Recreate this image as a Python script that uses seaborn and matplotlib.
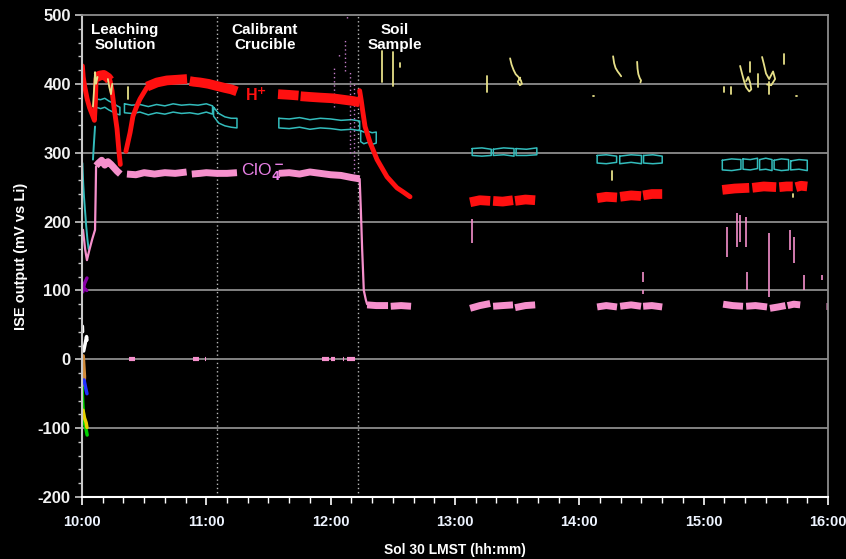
import numpy as np
import pandas as pd
import matplotlib
matplotlib.use("Agg")
import matplotlib.pyplot as plt
from matplotlib.ticker import MultipleLocator, FuncFormatter
import seaborn as sns

# time is minutes after 10:00 LMST, values are mV vs Li

# H+ sensor, noisy plateaus (drawn thick) and transitions (drawn thinner)
h_bands = [
    ([6.8, 8.5, 10.5, 12.5, 13.5], [409, 412, 413, 409, 405]),
    ([31.4, 36.2, 41, 46, 50.7], [396, 402, 405, 406, 407]),
    ([52, 54, 57, 61, 65, 69, 72, 74.8], [404, 403, 402, 400, 397, 394, 392, 389]),
    ([94.6, 100, 104.5], [385, 384, 383]),
    ([105.5, 110, 115, 121, 126, 131, 134], [382, 381, 380, 379, 377, 375, 373]),
    ([187.3, 192, 197], [228, 231, 230]),
    ([198.4, 203, 208], [230, 229, 231]),
    ([209, 214, 218.7], [230, 232, 231]),
    ([248.6, 253, 258.2], [234, 236, 235]),
    ([259.7, 265, 269.8], [236, 238, 237]),
    ([270.8, 275, 280], [238, 240, 240]),
    ([309, 315, 322], [246, 248, 249]),
    ([323.5, 329, 335], [249, 251, 250]),
    ([336.5, 340, 343], [250, 251, 251]),
    ([344.5, 347, 350], [250, 252, 251]),
]
h_ramps = [
    ([0.2, 0.6, 1.2, 2.5, 3.7, 5.0, 6.0, 6.5, 6.8], [426, 410, 398, 378, 365, 355, 347, 375, 408]),
    ([13.5, 14.5, 15.5, 16.9, 17.9, 18.5], [405, 390, 365, 335, 300, 283]),
    ([21.2, 23.2, 24.6, 26.5, 28, 31.4, 33], [302, 329, 353, 368, 378, 395, 399]),
    ([134, 134.8, 135.5, 136.6, 139, 142.4, 147.2, 152, 155, 158.3],
     [390, 375, 360, 338, 315, 290, 265, 249, 243, 236]),
]

# ClO4- sensor
p_bands = [
    ([6.8, 8, 9.5, 11, 12.5, 14, 15.5, 17, 18.5], [281, 285, 289, 282, 287, 283, 278, 273, 269]),
    ([21.7, 26, 30, 35, 40, 45, 50.5], [269, 268, 271, 269, 271, 270, 272]),
    ([53, 57, 60, 65, 70, 74.8], [269, 270, 271, 270, 270, 271]),
    ([95, 100, 105, 110, 115, 120, 125, 130, 134], [270, 271, 269, 272, 270, 268, 267, 264, 262]),
    ([137.6, 142, 147.7], [79, 78, 78]),
    ([149, 154, 158.8], [77, 78, 77]),
    ([187.3, 192, 197], [74, 78, 81]),
    ([198.4, 203, 208], [77, 78, 79]),
    ([209, 214, 218.7], [75, 78, 79]),
    ([248.6, 253, 258.2], [76, 78, 76]),
    ([259.7, 265, 269.8], [77, 79, 77]),
    ([270.8, 275, 280], [77, 78, 76]),
    ([309.4, 314, 319], [80, 78, 77]),
    ([320.5, 325, 330.6], [77, 78, 76]),
    ([332, 336, 339.5], [74, 76, 78]),
    ([340.5, 343.5, 346.6], [78, 80, 79]),
    ([359.2, 360], [78, 78]),
]
p_thin = [
    ([0.5, 1.5, 2.4, 3.5, 5.0, 6.3, 6.6, 6.8], [188, 160, 144, 158, 175, 188, 240, 280]),
    ([134, 134.6, 135.2, 136, 137, 137.6], [262, 215, 160, 100, 86, 80]),
]
p_zero = [
    ([22.7, 25.6], [1, 1]), ([53.6, 56.5], [1, 1]), ([59.6, 60.0], [1, 1]),
    ([115.8, 119], [1, 1]), ([120, 122], [1, 1]), ([125.8, 126.3], [1, 1]),
    ([128, 131.8], [1, 1]),
]
p_spikes = [
    (188.3, 169, 203), (270.8, 112, 127), (270.9, 95, 100), (311.5, 149, 192),
    (316, 163, 213), (317.5, 170, 210), (320.5, 163, 206), (320.8, 100, 127),
    (331.5, 90, 184), (341.8, 159, 188), (343.7, 140, 178), (348.5, 100, 122),
    (357, 115, 122),
]
p_specks = [
    (121.5, 367, 425), (127, 418, 465), (129.5, 300, 417), (131.5, 271, 400),
    (128, 495, 500), (124, 440, 446),
]

# third sensor (cyan), band outlines: time, upper edge, lower edge
c_thin = [
    ([0.2, 0.6, 1.0, 1.5, 2.0, 2.6, 3.2], [285, 255, 235, 215, 195, 175, 160]),
    ([5.3, 5.8, 6.3], [290, 315, 338]),
]
c_bands = [
    ([6.8, 9, 11, 13, 15, 17, 18.3],
     [378, 377, 379, 375, 372, 368, 366], [366, 364, 366, 362, 359, 356, 355]),
    ([20.5, 24, 28, 32, 36, 40, 44, 48, 52, 56, 60, 63],
     [371, 369, 370, 367, 370, 368, 371, 369, 370, 369, 371, 368],
     [358, 357, 359, 355, 358, 356, 359, 357, 358, 356, 359, 356]),
    ([63.5, 66, 69, 72, 74.8], [366, 357, 352, 350, 350], [353, 343, 339, 337, 336]),
    ([95, 100, 105, 110, 115, 120, 125, 130, 134],
     [350, 349, 351, 348, 350, 349, 347, 348, 346],
     [336, 335, 337, 334, 336, 335, 333, 334, 332]),
    ([134.5, 136, 138, 140, 142], [332, 330, 331, 329, 330], [316, 313, 315, 312, 314]),
    ([188.3, 193, 197.5], [306, 307, 305], [296, 295, 296]),
    ([198.5, 203.5, 208.5], [305, 307, 306], [296, 297, 295]),
    ([209.5, 214.5, 219.5], [306, 305, 307], [296, 296, 297]),
    ([248.6, 253, 258], [296, 297, 295], [285, 284, 286]),
    ([259.5, 265, 270], [295, 297, 296], [284, 286, 284]),
    ([271, 275.5, 280], [296, 297, 295], [285, 284, 285]),
    ([309, 313.5, 318], [289, 291, 290], [275, 274, 276]),
    ([319, 322.5, 326], [291, 290, 292], [276, 275, 277]),
    ([327, 330, 333], [290, 292, 290], [275, 276, 274]),
    ([334, 337.5, 341], [289, 291, 290], [276, 274, 275]),
    ([342, 346, 350], [288, 290, 289], [275, 276, 274]),
]

# fourth sensor (pale yellow)
y_traces = [
    ([5.3, 5.8, 6.3, 6.8, 7.5], [367, 390, 417, 400, 410]),
    ([12.5, 13.2, 14, 14.6], [407, 395, 385, 400]),
    ([22.2, 22.2], [378, 396]),
    ([145, 145], [402, 448]), ([150, 150], [397, 446]), ([153.5, 153.5], [425, 430]),
    ([195.4, 195.4], [388, 411]),
    ([206.6, 207.3, 208.3, 209.3, 210.6, 211.8, 212.3, 211.3, 210.3, 211.5],
     [437, 428, 420, 414, 410, 405, 400, 398, 403, 409]),
    ([256.3, 256.8, 257.5, 258.5, 259.5, 260.2], [440, 430, 423, 418, 414, 411]),
    ([267.9, 268.1, 268.5, 269.2, 269.8, 269.5], [432, 422, 414, 408, 405, 402]),
    ([256, 256], [261, 273]),
    ([317.6, 318.6, 319.5, 320.5, 322, 323, 322.4, 321.5, 320.5],
     [426, 414, 404, 395, 389, 392, 402, 410, 404]),
    ([328.2, 329.2, 330.1, 331.6, 333.5, 334.5, 332.6, 330.6],
     [439, 427, 415, 407, 418, 407, 398, 399]),
    ([322.4, 322.4], [417, 431]), ([338.9, 338.9], [429, 443]),
    ([313, 313], [385, 396]), ([310, 310], [388, 395]),
    ([326, 326], [395, 414]), ([331.5, 331.5], [385, 402]),
    ([340, 340.3], [401, 401]), ([344.6, 344.9], [383, 383]),
    ([343, 343], [236, 240]), ([246.6, 246.9], [383, 383]),
]

# other channels, only visible at the very start
early_traces = {
    "#8a00a8": [([0.4, 1.2, 2.4], [98, 110, 118]), ([0.6, 2.3], [104, 100])],
    "#ffffff": [([0.2, 0.3], [48, 40]), ([0.8, 1.5, 2.2, 2.4], [12, 22, 33, 28])],
    "#d08a3a": [([0.6, 0.9, 1.2, 1.0], [5, -10, -25, -38])],
    "#2030ff": [([1.0, 1.8, 2.4], [-30, -42, -50])],
    "#00d000": [([0.0, 0.4, 0.8, 1.4, 2.0, 2.5], [-40, -65, -85, -95, -102, -110])],
    "#e8d000": [([0.5, 1.2, 2.0, 2.4], [-74, -85, -92, -99])],
}

phase_lines = [65.3, 133.4]
phase_labels = [(20.8, "Leaching\nSolution"), (88.3, "Calibrant\nCrucible"), (151, "Soil\nSample")]


def to_frame(segs):
    rows = []
    for i, (ts, vs) in enumerate(segs):
        for t, v in zip(ts, vs):
            rows.append((i, t, v))
    return pd.DataFrame(rows, columns=["seg", "t", "mv"])


def draw(ax, segs, color, lw, **kw):
    df = to_frame(segs)
    sns.lineplot(data=df, x="t", y="mv", units="seg", estimator=None, sort=False,
                 color=color, lw=lw, ax=ax, legend=False, **kw)


sns.set_style("dark", {"axes.facecolor": "black", "figure.facecolor": "black"})
plt.rcParams["font.family"] = ["Liberation Sans", "DejaVu Sans"]
plt.rcParams["font.weight"] = "bold"
plt.rcParams["axes.unicode_minus"] = False

fig = plt.figure(figsize=(8.46, 5.59), dpi=100)
ax = fig.add_axes([0.0969, 0.1109, 0.8818, 0.8623])
ax.set_facecolor("black")

for t in phase_lines:
    ax.axvline(t, color="#b8b8b8", lw=1.0, ls=(0, (1, 2)), zorder=1)
for v in [400, 300, 200, 100, 0, -100]:
    ax.axhline(v, color="#8c8c8c", lw=1.3, zorder=1)

red = "#ff1010"
pink = "#f590cc"
cyan = "#33bcbc"
yellow = "#e6df88"

# cyan outlines: upper edge forward, lower edge back
c_loops = []
for ts, up, lo in c_bands:
    c_loops.append((list(ts) + list(ts[::-1]) + [ts[0]], list(up) + list(lo[::-1]) + [up[0]]))
draw(ax, c_loops, cyan, 1.1)
draw(ax, c_thin, cyan, 1.4)

draw(ax, p_bands, pink, 5, solid_capstyle="butt", solid_joinstyle="round")
draw(ax, p_thin, pink, 1.6)
draw(ax, p_zero, pink, 3, solid_capstyle="butt")
draw(ax, [([t, t], [lo, hi]) for t, lo, hi in p_spikes], pink, 1.2, solid_capstyle="butt")
draw(ax, [([t, t], [lo, hi]) for t, lo, hi in p_specks], "#c27cc8", 1.0, ls=(0, (1, 2)))

draw(ax, h_bands, red, 7, solid_capstyle="butt", solid_joinstyle="round")
draw(ax, h_ramps, red, 3.5, solid_joinstyle="round")

draw(ax, y_traces, yellow, 1.3)
for col, segs in early_traces.items():
    draw(ax, segs, col, 2.5)

ax.set_xlim(0, 360)
ax.set_ylim(-200, 500)
ax.xaxis.set_major_locator(MultipleLocator(60))
ax.xaxis.set_minor_locator(MultipleLocator(10))
ax.yaxis.set_major_locator(MultipleLocator(100))
ax.yaxis.set_minor_locator(MultipleLocator(20))
ax.xaxis.set_major_formatter(FuncFormatter(lambda m, p: f"{10 + int(m // 60)}:{int(m % 60):02d}"))

ax.tick_params(axis="x", which="both", bottom=True, direction="out")
ax.tick_params(axis="y", which="both", left=True, direction="out")
ax.tick_params(axis="x", which="major", colors="white", length=6, width=1.2, pad=7, labelsize=10.5)
ax.tick_params(axis="x", which="minor", colors="white", length=4, width=1.0)
ax.tick_params(axis="y", which="major", colors="#c8c8c8", length=5, width=1.2, pad=3, labelsize=12)
ax.tick_params(axis="y", which="minor", colors="#c8c8c8", length=3, width=1.0)
for lab in ax.get_xticklabels():
    lab.set_color("#eef4ff")
    lab.set_fontweight("bold")
for lab in ax.get_yticklabels():
    lab.set_color("#f2f2f2")
    lab.set_fontweight("bold")

ax.spines["bottom"].set_color("white")
ax.spines["bottom"].set_linewidth(1.5)
ax.spines["left"].set_color("#c8c8c8")
ax.spines["left"].set_linewidth(1.5)
for s in ["top", "right"]:
    ax.spines[s].set_color("#8c8c8c")
    ax.spines[s].set_linewidth(1.3)
    ax.spines[s].set_visible(True)

ax.set_xlabel("Sol 30 LMST (hh:mm)", color="white", fontsize=10, fontweight="bold", labelpad=10)
ax.set_ylabel("ISE output (mV vs Li)", color="white", fontsize=10.5, fontweight="bold", labelpad=7)

for t, txt in phase_labels:
    ax.text(t, 488, txt, color="white", fontsize=11, fontweight="bold", ha="center", va="top",
            linespacing=1.05)
ax.text(84, 383, r"H$^\mathbf{+}$", color=red, fontsize=11.5, fontweight="bold", ha="center", va="center")
ax.text(87, 272, r"ClO$_4^-$", color="#e77fe4", fontsize=12.5, fontweight="normal", ha="center", va="center")

fig.savefig("out.png", dpi=100, facecolor="black")
